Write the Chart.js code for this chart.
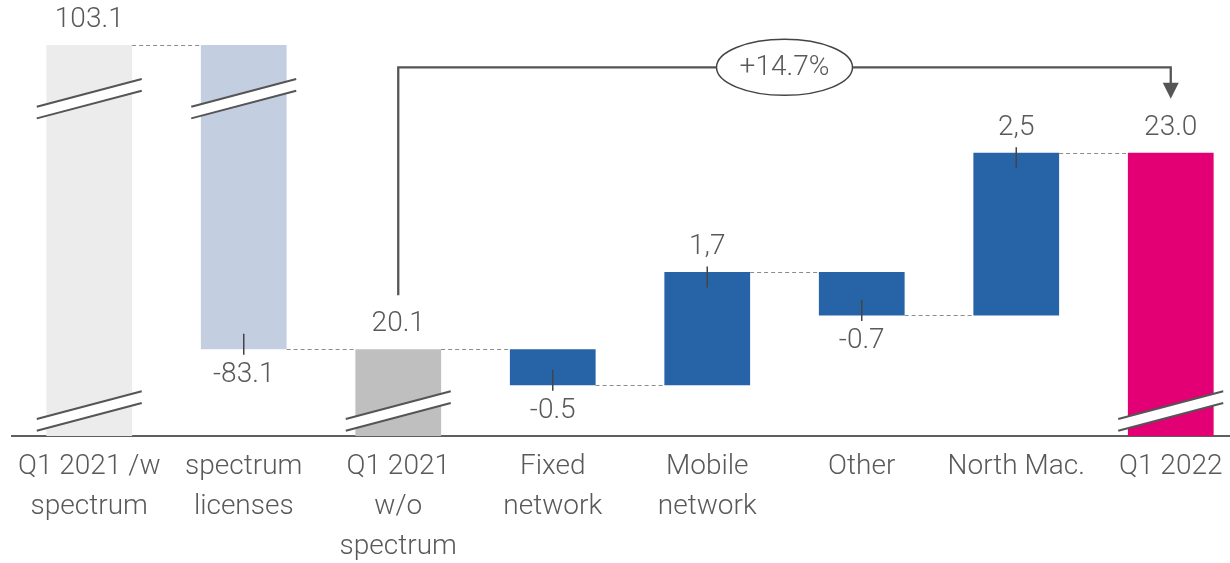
<!DOCTYPE html>
<html>
<head>
<meta charset="utf-8">
<script src="https://cdn.jsdelivr.net/npm/chart.js@4.4.0/dist/chart.umd.min.js"></script>
<style>
    html, body { margin: 0; padding: 0; background: #fff; overflow: hidden; }
    #wrap { width: 1248px; height: 578px; }
</style>
</head>
<body>
<div id="wrap"><canvas id="chart"></canvas></div>
<script>
// chart data
const categories = [
    ['Q1 2021 /w', 'spectrum'],
    ['spectrum', 'licenses'],
    ['Q1 2021', 'w/o', 'spectrum'],
    ['Fixed', 'network'],
    ['Mobile', 'network'],
    'Other',
    'North Mac.',
    'Q1 2022'
];
const values = [103.1, -83.0, 20.1, -0.53, 1.67, -0.64, 2.40, 23.0];
const isTotal = [true, false, true, false, false, false, false, true];
const valueLabels = ['103.1', '-83.1', '20.1', '-0.5', '1,7', '-0.7', '2,5', '23.0'];
const breakTop = [true, true, false, false, false, false, false, false];
const breakBottom = [true, false, true, false, false, false, false, true];
const growthLabel = '+14.7%';
const growthFrom = 2;
const growthTo = 7;

const barColors = ['#ececec', '#c4cee1', '#bfbfbf', '#2764a7', '#2764a7', '#2764a7', '#2764a7', '#e20074'];
const textColor = '#595959';
const lineColor = '#555555';
const fontFamily = 'Roboto, "Open Sans", sans-serif';

/**
 * Build floating bar ranges for the waterfall.
 *
 * @return {Array} [start, end] for each bar.
 */
function BuildRanges() {
    let level = 0;
    let ranges = [];

    values.forEach((v, i) => {
        if (isTotal[i]) {
            ranges.push([0, v]);
            level = v;
        } else {
            ranges.push([level, level + v]);
            level = level + v;
        }
    });

    return ranges;
}

const ranges = BuildRanges();

/**
 * Draw an axis break (white band between two slanted lines).
 */
function DrawBreak(ctx, cx, cy) {
    const half = 52.5, rise = 27.7, gap = 11.7;

    ctx.save();
    ctx.beginPath();
    ctx.moveTo(cx - half, cy - gap / 2 + rise / 2);
    ctx.lineTo(cx + half, cy - gap / 2 - rise / 2);
    ctx.lineTo(cx + half, cy + gap / 2 - rise / 2);
    ctx.lineTo(cx - half, cy + gap / 2 + rise / 2);
    ctx.closePath();
    ctx.fillStyle = '#fff';
    ctx.fill();

    ctx.strokeStyle = lineColor;
    ctx.lineWidth = 2;
    ctx.beginPath();
    ctx.moveTo(cx - half, cy - gap / 2 + rise / 2);
    ctx.lineTo(cx + half, cy - gap / 2 - rise / 2);
    ctx.moveTo(cx - half, cy + gap / 2 + rise / 2);
    ctx.lineTo(cx + half, cy + gap / 2 - rise / 2);
    ctx.stroke();
    ctx.restore();
}

const waterfallPlugin = {
    id: 'waterfall_extras',
    afterDatasetsDraw: (chart) => {
        const ctx = chart.ctx;
        const area = chart.chartArea;
        const yScale = chart.scales.y;
        const bars = chart.getDatasetMeta(0).data;
        const clampY = (v) => Math.min(Math.max(yScale.getPixelForValue(v), area.top), area.bottom);

        ctx.save();

        // dashed connectors
        ctx.strokeStyle = '#8c8c8c';
        ctx.lineWidth = 1;
        ctx.setLineDash([4, 3]);
        for (let i = 0; i < bars.length - 1; i++) {
            const y = Math.round(clampY(ranges[i][1])) + 0.5;
            ctx.beginPath();
            ctx.moveTo(bars[i].x + bars[i].width / 2, y);
            ctx.lineTo(bars[i + 1].x - bars[i + 1].width / 2, y);
            ctx.stroke();
        }
        ctx.setLineDash([]);

        // breaks
        bars.forEach((bar, i) => {
            if (breakTop[i])
                DrawBreak(ctx, bar.x, area.top + 53.7);
            if (breakBottom[i])
                DrawBreak(ctx, bar.x, area.bottom - 25);
        });

        // value labels and ticks
        ctx.font = '300 28px ' + fontFamily;
        ctx.fillStyle = textColor;
        ctx.textAlign = 'center';
        ctx.textBaseline = 'middle';
        bars.forEach((bar, i) => {
            const yEnd = clampY(ranges[i][1]);
            const up = isTotal[i] || values[i] > 0;

            if (!isTotal[i]) {
                ctx.strokeStyle = '#444';
                ctx.lineWidth = 1.5;
                ctx.beginPath();
                ctx.moveTo(bar.x, yEnd + (up ? -5.5 : 5.5));
                ctx.lineTo(bar.x, yEnd + (up ? 15.5 : -15.5));
                ctx.stroke();
            }

            ctx.fillText(valueLabels[i], bar.x, up ? yEnd - 25 : yEnd + 26);
        });

        // growth arrow
        const xa = bars[growthFrom].x;
        const xb = bars[growthTo].x;
        const ya = clampY(ranges[growthFrom][1]) - 54;
        const yb = clampY(ranges[growthTo][1]) - 54;
        const yl = area.top + 22.3;

        ctx.strokeStyle = lineColor;
        ctx.lineWidth = 2.3;
        ctx.beginPath();
        ctx.moveTo(xa, ya);
        ctx.lineTo(xa, yl);
        ctx.lineTo(xb, yl);
        ctx.lineTo(xb, yb - 15);
        ctx.stroke();

        ctx.fillStyle = lineColor;
        ctx.beginPath();
        ctx.moveTo(xb - 8, yb - 16);
        ctx.lineTo(xb + 8, yb - 16);
        ctx.lineTo(xb, yb);
        ctx.closePath();
        ctx.fill();

        const xm = (xa + xb) / 2;
        ctx.beginPath();
        ctx.ellipse(xm, yl, 68, 28, 0, 0, Math.PI * 2);
        ctx.fillStyle = '#fff';
        ctx.fill();
        ctx.strokeStyle = '#444';
        ctx.lineWidth = 1.5;
        ctx.stroke();

        ctx.fillStyle = textColor;
        ctx.fillText(growthLabel, xm, yl + 1);

        ctx.restore();
    }
};

new Chart(document.getElementById('chart'), {
    type: 'bar',
    data: {
        labels: categories,
        datasets: [{
            data: ranges,
            backgroundColor: barColors,
            borderWidth: 0,
            categoryPercentage: 1,
            barPercentage: 0.555,
            clip: 0
        }]
    },
    options: {
        responsive: true,
        maintainAspectRatio: false,
        animation: false,
        layout: {padding: {top: 45, left: 12, right: 0, bottom: 0}},
        plugins: {
            legend: {display: false},
            tooltip: {enabled: false}
        },
        scales: {
            x: {
                grid: {display: false, drawTicks: false, tickLength: 0},
                border: {display: true, color: '#5f5f5f', width: 2},
                ticks: {
                    color: textColor,
                    font: {family: fontFamily, size: 28, weight: 300, lineHeight: '40px'},
                    padding: 11,
                    autoSkip: false,
                    maxRotation: 0,
                    minRotation: 0
                }
            },
            y: {
                display: false,
                min: 18.82,
                max: 24.59
            }
        }
    },
    plugins: [waterfallPlugin]
});
</script>
</body>
</html>
